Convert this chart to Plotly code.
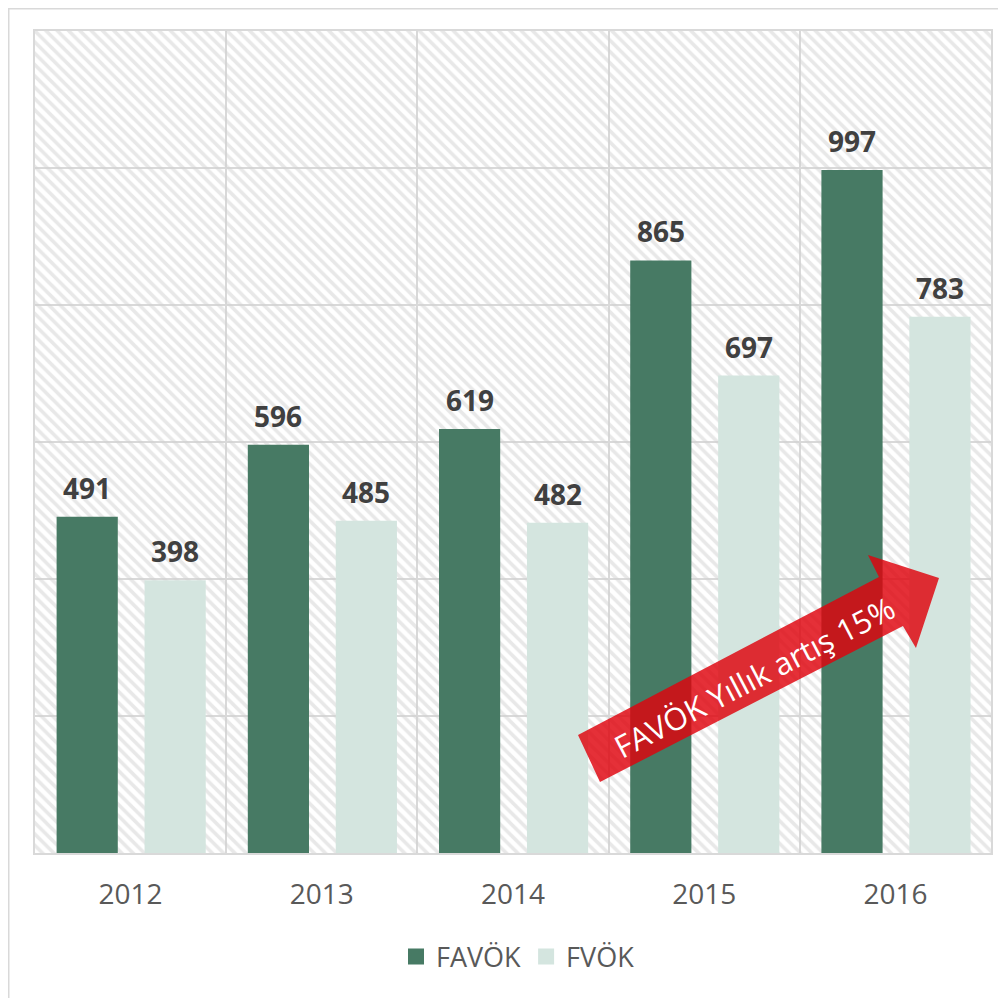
import plotly.graph_objects as go

# ---- data ----
years = ["2012", "2013", "2014", "2015", "2016"]
favok = [491, 596, 619, 865, 997]
fvok = [398, 485, 482, 697, 783]
series_names = ["FAVÖK", "FVÖK"]
arrow_label = "FAVÖK Yıllık artış 15%"

Y_MAX = 1200
PAGE_OFF = 8  # browser body margin
W, H = 1006 - PAGE_OFF, 998 - PAGE_OFF
ML, MR, MT, MB = 35 - PAGE_OFF, 15, 31 - PAGE_OFF, 145
PW, PH = W - ML - MR, H - MT - MB

DARK = "#477a64"
LIGHT = "#d4e5df"
GRID = "#d9d9d9"

BAR_W = 0.32
OFF_A = -0.387
OFF_B = 0.073


def px2paper(x, y):
    # x, y in reference-image pixels
    x -= PAGE_OFF
    y -= PAGE_OFF
    return (x - ML) / PW, (H - MB - y) / PH


fig = go.Figure()

# hatched background of the plot area
fig.add_trace(go.Bar(
    x=years, y=[Y_MAX] * len(years), width=1, offset=-0.5,
    marker=dict(color="rgba(0,0,0,0)", line=dict(width=0),
                pattern=dict(shape="\\", fgcolor="#d2d2d2", bgcolor="rgba(0,0,0,0)",
                             size=8, solidity=0.45)),
    showlegend=False, hoverinfo="skip"))

fig.add_trace(go.Bar(x=years, y=favok, name=series_names[0], width=BAR_W, offset=OFF_A,
                     marker=dict(color=DARK, line=dict(width=0)), showlegend=False))
fig.add_trace(go.Bar(x=years, y=fvok, name=series_names[1], width=BAR_W, offset=OFF_B,
                     marker=dict(color=LIGHT, line=dict(width=0)), showlegend=False))

# legend entries (bigger square swatches)
for name, col in zip(series_names, (DARK, LIGHT)):
    fig.add_trace(go.Scatter(x=[None], y=[None], mode="markers", name=name,
                             marker=dict(symbol="square", size=16, color=col)))

annotations = []
for i, (a, b) in enumerate(zip(favok, fvok)):
    for v, off in ((a, OFF_A), (b, OFF_B)):
        annotations.append(dict(
            x=i + off + BAR_W / 2, y=v, xref="x", yref="y", text=str(v),
            showarrow=False, yanchor="middle", yshift=29,
            font=dict(family="Open Sans", size=28, color="#404040", weight="bold")))

# arrow text
tx, ty = px2paper(754, 677)
annotations.append(dict(x=tx, y=ty, xref="paper", yref="paper", text=arrow_label,
                        showarrow=False, textangle=-27.5, xanchor="center", yanchor="middle",
                        font=dict(family="Open Sans", size=31, color="white")))

# block arrow (decoration)
pts = [(600, 782), (578, 735), (879, 577), (868, 555), (939, 578), (916, 648), (903, 626)]
pp = [px2paper(x, y) for x, y in pts]
path = "M " + " L ".join(f"{x:.4f},{y:.4f}" for x, y in pp) + " Z"

bx0, by0 = px2paper(8.75, 1010)
bx1, by1 = px2paper(1015, 8.75)

shapes = [
    dict(type="path", path=path, xref="paper", yref="paper",
         fillcolor="rgba(223,2,12,0.82)", line=dict(width=0), layer="above"),
    dict(type="rect", xref="paper", yref="paper", x0=bx0, y0=by0, x1=bx1, y1=by1,
         line=dict(color=GRID, width=1.5), fillcolor="rgba(0,0,0,0)", layer="below"),
]

lx, ly = px2paper(518, 957)

fig.update_layout(
    width=W, height=H,
    margin=dict(l=ML, r=MR, t=MT, b=MB),
    paper_bgcolor="white", plot_bgcolor="white",
    barmode="overlay",
    font=dict(family="Open Sans", color="#595959"),
    xaxis=dict(type="category", range=[-0.5, 4.5], tickson="boundaries",
               showgrid=True, gridcolor=GRID, gridwidth=1.5,
               showline=True, linecolor=GRID, linewidth=1.5, mirror=True,
               ticks="", tickfont=dict(size=28, color="#595959"), ticklabelstandoff=16),
    yaxis=dict(range=[0, Y_MAX], dtick=200, showgrid=True, gridcolor=GRID, gridwidth=1.5,
               showline=True, linecolor=GRID, linewidth=1.5, mirror=True,
               showticklabels=False, ticks="", zeroline=False),
    legend=dict(orientation="h", x=lx, y=ly, xanchor="center", yanchor="middle",
                font=dict(size=27, color="#595959"), itemsizing="trace",
                traceorder="normal"),
    annotations=annotations,
    shapes=shapes,
)

fig.write_html("out.html")
